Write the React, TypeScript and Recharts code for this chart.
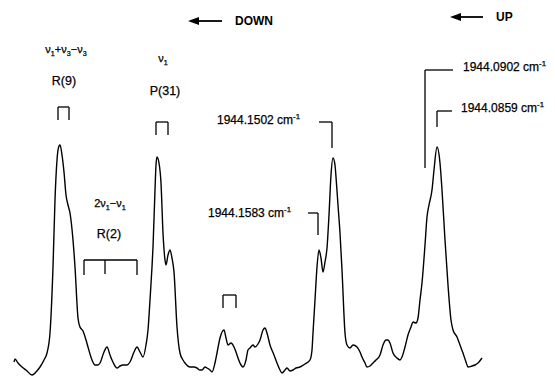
import { LineChart, Line, XAxis, YAxis, ReferenceLine, ReferenceDot } from "recharts";

// trace position (left to right) and signal depth
const position = [
  14, 15, 18, 22, 26, 32, 36, 40, 44, 47, 50, 53, 55, 57, 59, 60, 62, 64, 66, 68, 70, 73, 75, 78, 80, 83, 86, 88, 92, 95,
  98, 100, 104, 107, 110, 112, 115, 117, 120, 123, 127, 130, 134, 137, 140, 143, 146, 148, 150, 152, 153, 155, 156, 157,
  159, 161, 163, 165, 166, 168, 170, 172, 174, 177, 180, 183, 185, 190, 194, 197, 200, 202, 205, 207, 210, 212, 215, 217,
  220, 224, 226, 228, 231, 234, 236, 238, 241, 243, 246, 248, 250, 253, 255, 258, 260, 263, 265, 267, 270, 274, 277, 280,
  282, 285, 287, 290, 293, 296, 300, 305, 310, 312, 313, 315, 317, 319, 321, 323, 325, 327, 329, 331, 333, 335, 336, 338,
  340, 342, 345, 347, 350, 353, 357, 360, 362, 365, 367, 370, 373, 376, 380, 383, 386, 388, 390, 393, 397, 400, 402, 405,
  408, 411, 413, 416, 418, 420, 422, 425, 427, 429, 432, 434, 437, 440, 442, 445, 448, 451, 453, 457, 460, 463, 466, 468,
  472, 475, 478, 482,
];
const depth = [
  362, 359, 363, 367, 370, 375, 372, 367, 360, 353, 333, 267, 200, 160, 146, 145, 155, 172, 195, 205, 213, 240, 267,
  318, 327, 331, 340, 347, 360, 365, 365, 363, 352, 347, 355, 360, 366, 368, 366, 365, 365, 362, 352, 347, 352, 357, 345,
  330, 300, 267, 247, 190, 165, 157, 163, 183, 233, 260, 265, 255, 250, 258, 272, 327, 353, 360, 363, 367, 367, 368, 370,
  370, 367, 368, 370, 372, 363, 353, 338, 330, 338, 345, 343, 347, 352, 358, 365, 367, 360, 350, 348, 345, 347, 344, 340,
  330, 328, 333, 345, 355, 363, 370, 373, 370, 368, 371, 370, 368, 367, 364, 360, 350, 333, 300, 267, 250, 258, 272, 262,
  248, 215, 175, 158, 165, 177, 205, 233, 270, 333, 345, 348, 345, 347, 352, 357, 363, 367, 366, 363, 360, 355, 345, 340,
  340, 343, 353, 358, 360, 357, 347, 335, 327, 322, 323, 318, 300, 283, 245, 217, 205, 190, 170, 147, 163, 190, 240, 285,
  320, 330, 337, 345, 353, 362, 367, 366, 365, 363, 358,
];

// bracket markers over the lines (polylines, same units as the trace)
const brackets = [
  [[58, 120], [58, 107], [69, 107], [69, 120]],
  [[156, 135], [156, 122], [168, 122], [168, 135]],
  [[84, 275], [84, 260], [137, 260], [137, 275]],
  [[105, 260], [105, 274]],
  [[223, 308], [223, 295], [236, 295], [236, 308]],
  [[308, 213], [318, 213], [318, 235]],
  [[319, 122], [332, 122], [332, 148]],
  [[453, 70], [425, 70], [425, 168]],
  [[452, 111], [437, 111], [437, 127]],
];

const arrows = [
  { from: [222, 21], to: [188, 21], text: "DOWN" },
  { from: [483, 17], to: [450, 17], text: "UP" },
];

const lineLabels = [
  { x: 66, y: 53, parts: [["ν", ""], ["1", "sub"], ["+ν", ""], ["3", "sub"], ["−ν", ""], ["3", "sub"]] },
  { x: 64, y: 85, parts: [["R(9)", ""]] },
  { x: 163, y: 62, parts: [["ν", ""], ["1", "sub"]] },
  { x: 165, y: 95, parts: [["P(31)", ""]] },
  { x: 110, y: 207, parts: [["2ν", ""], ["1", "sub"], ["−ν", ""], ["1", "sub"]] },
  { x: 109, y: 238, parts: [["R(2)", ""]] },
];

const freqLabels = [
  { x: 208, y: 217, value: "1944.1583" },
  { x: 217, y: 124, value: "1944.1502" },
  { x: 463, y: 71, value: "1944.0902" },
  { x: 461, y: 112, value: "1944.0859" },
];

const H = 377;
const data = position.map((p, i) => ({ x: p, y: H - depth[i] }));
const FONT = "'Liberation Sans', Arial, sans-serif";

function Parts({ parts, size }: { parts: string[][]; size: number }) {
  let shift = 0;
  return (
    <>
      {parts.map(([t, kind], i) => {
        const target = kind === "sub" ? 3 : kind === "sup" ? -5 : 0;
        const dy = target - shift;
        shift = target;
        return (
          <tspan key={i} dy={dy} fontSize={kind ? size * 0.65 : size}>
            {t}
          </tspan>
        );
      })}
    </>
  );
}

export default function App() {
  return (
    <div style={{ position: "absolute", left: 0, top: 0, background: "#fff" }}>
      <LineChart width={555} height={377} data={data} margin={{ top: 0, right: 0, bottom: 0, left: 0 }}>
        <XAxis dataKey="x" type="number" domain={[0, 555]} hide />
        <YAxis type="number" domain={[0, H]} hide />
        <Line
          dataKey="y"
          type="monotone"
          stroke="#000"
          strokeWidth={1.4}
          dot={false}
          activeDot={false}
          isAnimationActive={false}
        />
        {brackets.flatMap((b, bi) =>
          b.slice(1).map((pt, i) => (
            <ReferenceLine
              key={`b${bi}-${i}`}
              segment={[
                { x: b[i][0], y: H - b[i][1] },
                { x: pt[0], y: H - pt[1] },
              ]}
              stroke="#000"
              strokeWidth={1.3}
              ifOverflow="visible"
            />
          ))
        )}
        {arrows.map((a, i) => (
          <ReferenceLine
            key={`a${i}`}
            segment={[
              { x: a.from[0], y: H - a.from[1] },
              { x: a.to[0], y: H - a.to[1] },
            ]}
            ifOverflow="visible"
            shape={(p: any) => (
              <g>
                <line x1={p.x1} y1={p.y1} x2={p.x2 + 8} y2={p.y2} stroke="#000" strokeWidth={1.8} />
                <polygon
                  points={`${p.x2},${p.y2} ${p.x2 + 11},${p.y2 - 4} ${p.x2 + 11},${p.y2 + 4}`}
                  fill="#000"
                />
                <text
                  x={p.x1 + 13}
                  y={p.y1}
                  dominantBaseline="central"
                  fontFamily={FONT}
                  fontSize={12}
                  fontWeight="bold"
                >
                  {a.text}
                </text>
              </g>
            )}
          />
        ))}
        {lineLabels.map((l, i) => (
          <ReferenceDot
            key={`l${i}`}
            x={l.x}
            y={H - l.y}
            r={0}
            ifOverflow="visible"
            shape={(p: any) => (
              <text
                x={p.cx}
                y={p.cy}
                dy={4}
                textAnchor="middle"
                fontFamily={FONT}
                stroke="#000"
                strokeWidth={0.25}
              >
                <Parts parts={l.parts} size={l.parts.length > 1 ? 11 : 12.5} />
              </text>
            )}
          />
        ))}
        {freqLabels.map((f, i) => (
          <ReferenceDot
            key={`f${i}`}
            x={f.x}
            y={H - f.y}
            r={0}
            ifOverflow="visible"
            shape={(p: any) => (
              <text x={p.cx} y={p.cy} dy={4} fontFamily={FONT} stroke="#000" strokeWidth={0.25}>
                <Parts parts={[[`${f.value} cm`, ""], ["-1", "sup"]]} size={12} />
              </text>
            )}
          />
        ))}
      </LineChart>
    </div>
  );
}
